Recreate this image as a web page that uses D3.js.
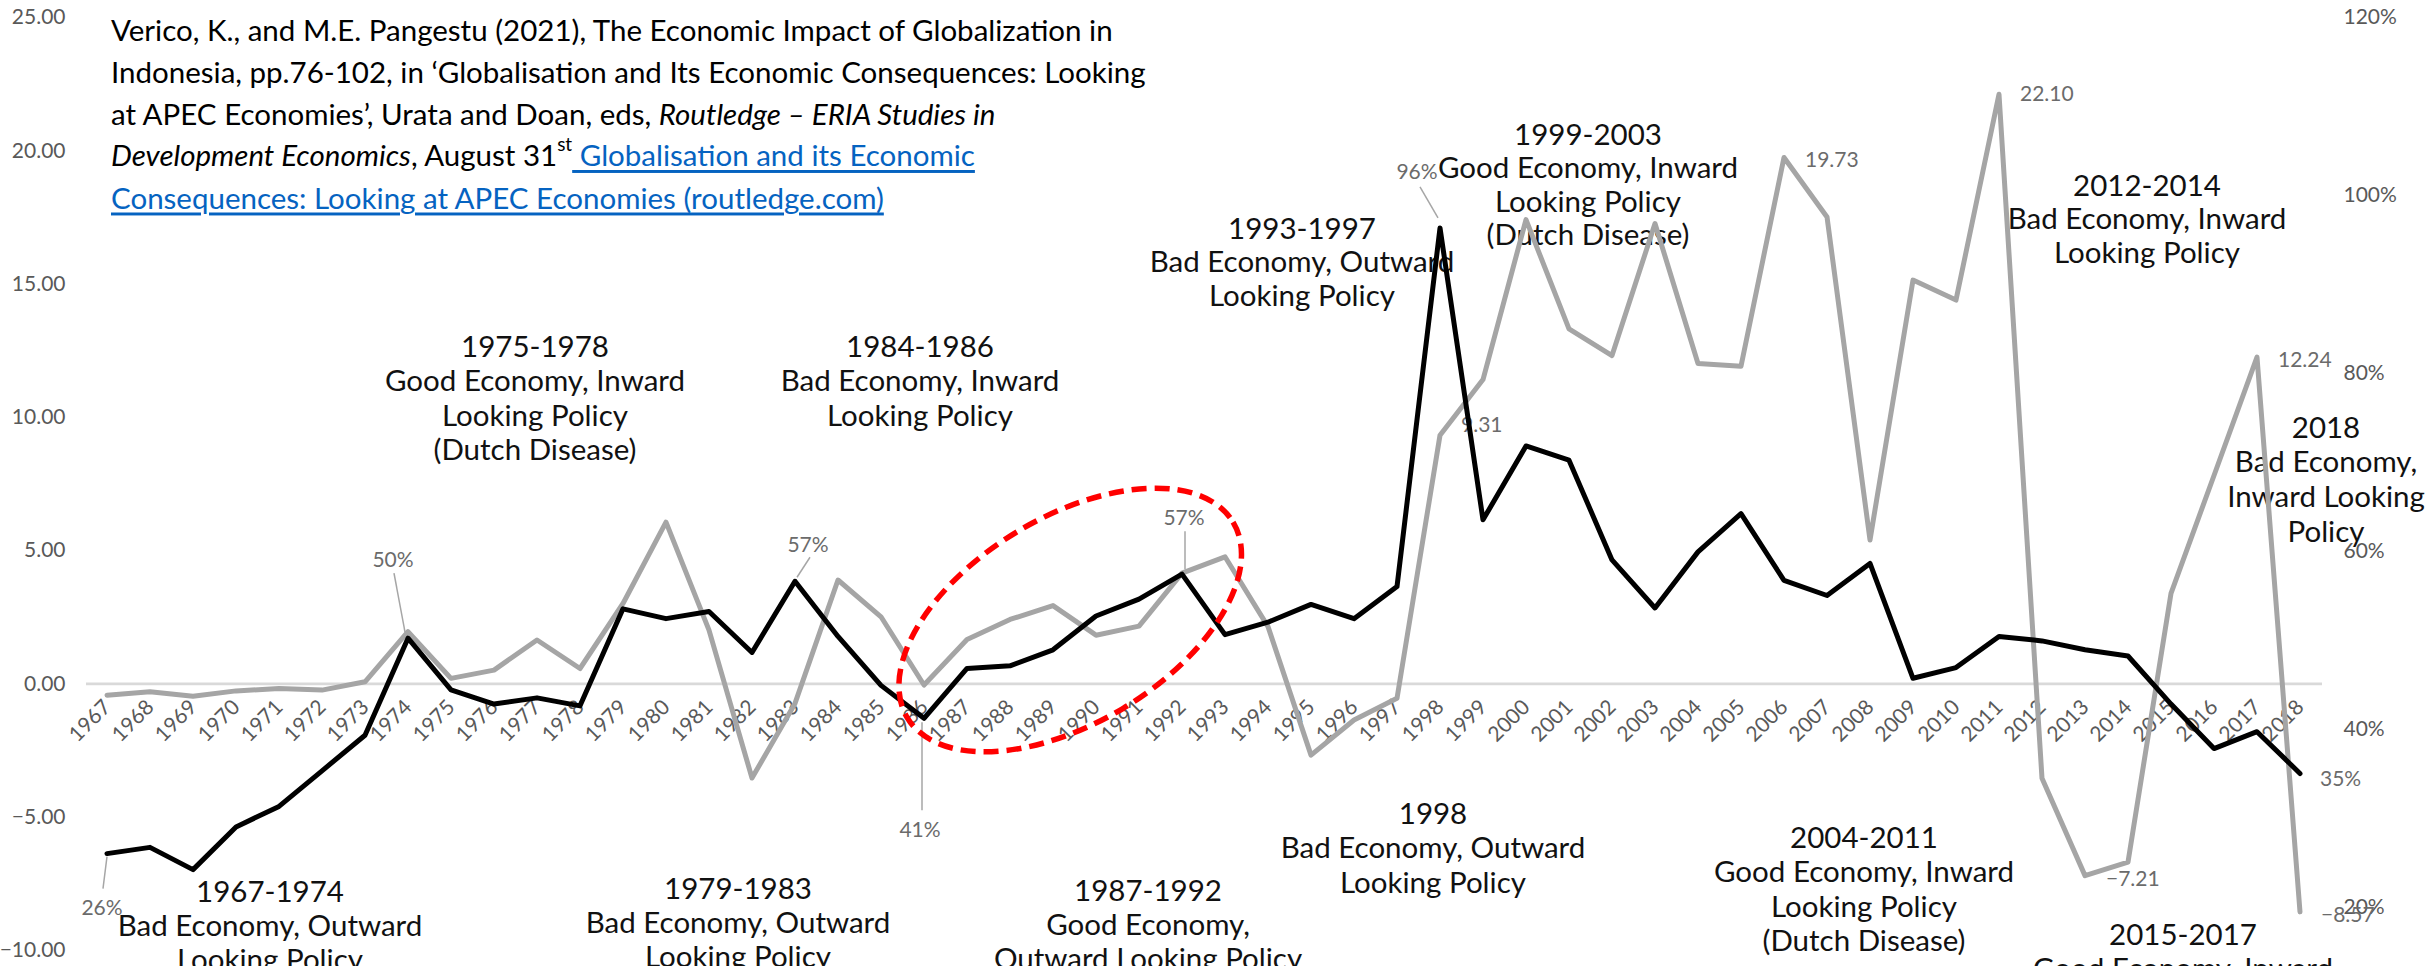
<!DOCTYPE html>
<html>
<head>
<meta charset="utf-8">
<script src="https://cdn.jsdelivr.net/npm/d3@7"></script>
<style>
  html, body { margin: 0; padding: 0; background: #fff; }
  svg { display: block; font-family: Lato, "Open Sans", sans-serif; }
</style>
</head>
<body>
<svg id="chart" width="2433" height="966"></svg>
<script>
// categories
const years = [1967, 1968, 1969, 1970, 1971, 1972, 1973, 1974, 1975, 1976,
  1977, 1978, 1979, 1980, 1981, 1982, 1983, 1984, 1985, 1986,
  1987, 1988, 1989, 1990, 1991, 1992, 1993, 1994, 1995, 1996,
  1997, 1998, 1999, 2000, 2001, 2002, 2003, 2004, 2005, 2006,
  2007, 2008, 2009, 2010, 2011, 2012, 2013, 2014, 2015, 2016,
  2017, 2018];

// black line, right axis (%)
const sharePct = [26.0, 26.7, 24.2, 29.0, 31.3, 35.3, 39.3, 50.2, 44.4, 42.8,
  43.5, 42.6, 53.5, 52.4, 53.2, 48.6, 56.6, 50.4, 44.9, 41.2,
  46.8, 47.1, 48.9, 52.7, 54.6, 57.4, 50.6, 52.0, 54.0, 52.4,
  56.0, 96.3, 63.5, 71.8, 70.2, 59.0, 53.6, 59.9, 64.2, 56.7,
  55.0, 58.6, 45.7, 46.9, 50.4, 49.9, 48.9, 48.2, 42.8, 37.8,
  39.7, 35.0];

// grey line, left axis
const gapValues = [-0.44, -0.31, -0.48, -0.28, -0.19, -0.25, 0.06, 1.94, 0.19, 0.5,
  1.63, 0.56, 3.0, 6.05, 2.0, -3.55, -0.75, 3.88, 2.5, -0.06,
  1.65, 2.4, 2.92, 1.81, 2.15, 4.14, 4.75, 2.13, -2.69, -1.37,
  -0.56, 9.31, 11.4, 17.4, 13.3, 12.3, 17.25, 12.0, 11.9, 19.73,
  17.5, 5.38, 15.13, 14.38, 22.10, -3.56, -7.21, -6.7, 3.38, 7.8,
  12.24, -8.57];

const leftTicks = [-10, -5, 0, 5, 10, 15, 20, 25];
const rightTicks = [20, 40, 60, 80, 100, 120];

// which points carry a data label
const shareLabelYears = [1967, 1974, 1983, 1986, 1992, 1998, 2018];
const gapLabelYears = [1998, 2006, 2011, 2013, 2017, 2018];

// period notes on the chart
const periodNotes = [
  ["1975-1978", "Good Economy, Inward", "Looking Policy", "(Dutch Disease)"],
  ["1984-1986", "Bad Economy, Inward", "Looking Policy"],
  ["1993-1997", "Bad Economy, Outward", "Looking Policy"],
  ["1999-2003", "Good Economy, Inward", "Looking Policy", "(Dutch Disease)"],
  ["2012-2014", "Bad Economy, Inward", "Looking Policy"],
  ["2018", "Bad Economy,", "Inward Looking", "Policy"],
  ["1967-1974", "Bad Economy, Outward", "Looking Policy"],
  ["1979-1983", "Bad Economy, Outward", "Looking Policy"],
  ["1987-1992", "Good Economy,", "Outward Looking Policy"],
  ["1998", "Bad Economy, Outward", "Looking Policy"],
  ["2004-2011", "Good Economy, Inward", "Looking Policy", "(Dutch Disease)"],
  ["2015-2017", "Good Economy, Inward"]
];

const svg = d3.select("#chart");
const left = 85.5, right = 2321.5;

const x = d3.scaleBand().domain(years).range([left, right]).padding(0);
const cx = d => x(d) + x.bandwidth() / 2;
const yL = d3.scaleLinear().domain([-10, 25]).range([950, 17]);
const yR = d3.scaleLinear().domain([20, 120]).range([907, 17]);

const axisGrey = "#595959";
const labelGrey = "#6b6b6b";

// left axis
const gL = svg.append("g")
  .attr("transform", `translate(${left},0)`)
  .call(d3.axisLeft(yL).tickValues(leftTicks).tickFormat(d3.format(".2f")).tickSize(0).tickPadding(20));
gL.select(".domain").remove();
gL.selectAll("text").attr("fill", axisGrey).style("font-size", "21px").style("font-family", "Lato, sans-serif");

// right axis
const gR = svg.append("g")
  .attr("transform", `translate(${right},0)`)
  .call(d3.axisRight(yR).tickValues(rightTicks).tickFormat(d => d + "%").tickSize(0).tickPadding(22));
gR.select(".domain").remove();
gR.selectAll("text").attr("fill", axisGrey).style("font-size", "21px").style("font-family", "Lato, sans-serif");

// category axis at zero
const gX = svg.append("g")
  .attr("transform", `translate(0,${yL(0)})`)
  .call(d3.axisBottom(x).tickSize(0).tickSizeOuter(0));
gX.select(".domain").attr("stroke", "#d9d9d9").attr("stroke-width", 2.7);
gX.selectAll("text")
  .attr("fill", axisGrey)
  .attr("x", 0).attr("y", 0).attr("dy", 0)
  .attr("text-anchor", "end")
  .attr("transform", "translate(5,25) rotate(-45)")
  .style("font-size", "21px").style("font-family", "Lato, sans-serif");

// citation
const cite = svg.append("g").style("font-size", "29.5px").attr("fill", "#000");
const citeX = 111;
const link = "#0563c1";
function citeLine(yc) {
  return cite.append("text").attr("x", citeX).attr("y", yc).attr("dominant-baseline", "central");
}
citeLine(29).text("Verico, K., and M.E. Pangestu (2021), The Economic Impact of Globalization in");
citeLine(71.5).text("Indonesia, pp.76-102, in \u2018Globalisation and Its Economic Consequences: Looking");
let l3 = citeLine(112.5);
l3.append("tspan").text("at APEC Economies\u2019, Urata and Doan, eds, ");
l3.append("tspan").attr("font-style", "italic").text("Routledge \u2013 ERIA Studies in");
let l4 = citeLine(154);
l4.append("tspan").attr("font-style", "italic").text("Development Economics");
l4.append("tspan").text(", August 31");
l4.append("tspan").attr("dy", -11).style("font-size", "19px").text("st");
l4.append("tspan").attr("dy", 11).attr("fill", link).style("text-decoration", "underline")
  .text("\u00a0Globalisation and its Economic");
citeLine(197).attr("fill", link).style("text-decoration", "underline")
  .text("Consequences: Looking at APEC Economies (routledge.com)");

// period notes (centre x, first line y, line gap)
const notePos = [
  [535, 345, 34.5], [920, 345, 34.5], [1302, 227, 33.5], [1588, 133, 33.5],
  [2147, 184, 33.5], [2326, 426, 34.7], [270, 890, 34], [738, 887, 34],
  [1148, 889, 34], [1433, 812, 34.5], [1864, 836, 34.5], [2183, 933, 34]
];
const notes = svg.append("g").style("font-size", "29.5px").attr("fill", "#111").attr("text-anchor", "middle");
periodNotes.forEach((lines, i) => {
  const [nx, ny, gap] = notePos[i];
  lines.forEach((t, j) => {
    notes.append("text").attr("x", nx).attr("y", ny + j * gap)
      .attr("dominant-baseline", "central").text(t);
  });
});

// grey data labels (right of point)
const gapLabelDy = {1998: -12, 2006: 1, 2011: -2, 2013: 2, 2017: 1, 2018: 2};
svg.append("g").style("font-size", "21px").attr("fill", labelGrey)
  .selectAll("text").data(gapLabelYears).enter().append("text")
  .attr("x", d => cx(d) + 21)
  .attr("y", d => yL(gapValues[years.indexOf(d)]) + gapLabelDy[d])
  .attr("dominant-baseline", "central")
  .text(d => d3.format(".2f")(gapValues[years.indexOf(d)]));

// black data labels with leader lines: [label dx, dy, leader from dx,dy, to dx,dy]
const shareLabelPos = {
  1967: [-5, 53, 0, 3, -4, 35],
  1974: [-15, -80, -3, -6, -14, -65],
  1983: [13, -38, 2, -4, 15, -24],
  1986: [-4, 110, -2, 4, -2, 92],
  1992: [2, -58, 3, -5, 3, -43],
  1998: [-23, -57, -2, -10, -20, -41],
  2018: [20, 4, null]
};
const shareG = svg.append("g");
shareLabelYears.forEach(yr => {
  const v = sharePct[years.indexOf(yr)];
  const px = cx(yr), py = yR(v);
  const p = shareLabelPos[yr];
  if (p[2] !== null) {
    shareG.append("line")
      .attr("x1", px + p[2]).attr("y1", py + p[3])
      .attr("x2", px + p[4]).attr("y2", py + p[5])
      .attr("stroke", "#a6a6a6").attr("stroke-width", 1.5);
  }
  shareG.append("text")
    .attr("x", px + p[0]).attr("y", py + p[1])
    .attr("text-anchor", p[2] === null ? "start" : "middle")
    .attr("dominant-baseline", "central")
    .attr("fill", labelGrey).style("font-size", "21px")
    .text(Math.round(v) + "%");
});

// lines
const greyLine = d3.line().x((d, i) => cx(years[i])).y(d => yL(d));
const blackLine = d3.line().x((d, i) => cx(years[i])).y(d => yR(d));
svg.append("path").datum(gapValues).attr("d", greyLine)
  .attr("fill", "none").attr("stroke", "#a5a5a5").attr("stroke-width", 5)
  .attr("stroke-linejoin", "round").attr("stroke-linecap", "round");
svg.append("path").datum(sharePct).attr("d", blackLine)
  .attr("fill", "none").attr("stroke", "#000").attr("stroke-width", 5)
  .attr("stroke-linejoin", "round").attr("stroke-linecap", "round");

// red dashed ellipse around 1986-1992
const ex = cx(1989) + 0.4 * x.step(), ey = yL(2.38);
svg.append("ellipse")
  .attr("transform", `translate(${ex},${ey}) rotate(-31)`)
  .attr("rx", 190).attr("ry", 103)
  .attr("fill", "none").attr("stroke", "#ff0000").attr("stroke-width", 5.5)
  .attr("stroke-dasharray", "15,8");
</script>
</body>
</html>
